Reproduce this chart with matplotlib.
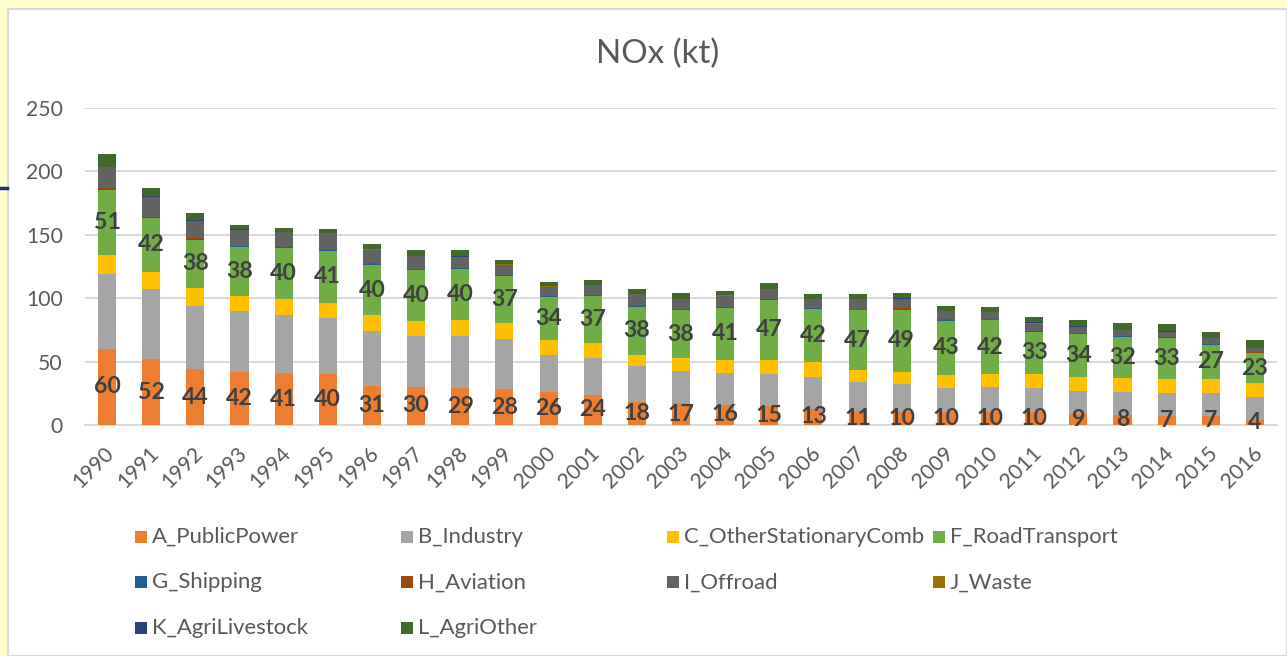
import matplotlib
matplotlib.use("Agg")
import matplotlib.pyplot as plt
import matplotlib.patches as mpatches
import matplotlib.lines as mlines
import matplotlib.transforms as mtrans
import numpy as np

years = [str(y) for y in range(1990, 2017)]
series_names = ["A_PublicPower", "B_Industry", "C_OtherStationaryComb", "F_RoadTransport",
                "G_Shipping", "H_Aviation", "I_Offroad", "J_Waste", "K_AgriLivestock", "L_AgriOther"]
A = [60, 52, 44, 42, 41, 40, 31, 30, 29, 28, 26, 24, 18, 17, 16, 15, 13, 11, 10, 10, 10, 10, 9, 8, 7, 7, 4]
B = [59, 55, 50, 48, 46, 44, 43, 40, 41, 39.5, 29.5, 28.5, 28.5, 25.3, 25.3, 25.5, 25, 23.2, 22.3, 19.2,
     20.2, 19.2, 18, 18, 18, 18, 18.3]
C = [15.3, 14, 14, 12, 12.2, 12.4, 12.4, 12.4, 13.2, 13.2, 11.4, 12.4, 8.9, 10.3, 10.2, 11, 11.4, 9.2, 9.7,
     10.2, 10.3, 11.3, 11, 11.3, 11, 11.3, 11.1]
F = [51, 42, 38, 38, 40, 41, 40, 40, 40, 37, 34, 37, 38, 38, 41, 47, 42, 47, 49, 43, 42, 33, 34, 32, 33, 27, 23]
G = [0.6, 0.8, 0.8, 0.8, 0.8, 0.5, 0.8, 0.8, 0.8, 0.6, 0.5, 0.5, 0.8, 0.8, 0.5, 0.5, 0.8, 0.3, 0.7, 0.7,
     0.7, 0.7, 0.7, 0.7, 0.6, 0.7, 0.7]
H = [0.8, 0.4, 0.3, 0.3, 0.3, 0.9, 0.3, 0.2, 0.2, 0.2, 0.2, 0.2, 0.2, 0.2, 0.2, 0.2, 0.2, 0.9, 0.2, 0.2,
     0.2, 0.2, 0.1, 0.1, 0.1, 0.1, 0.1]
I = [16.6, 15.8, 13.9, 12.7, 11.6, 12.5, 10.4, 9.5, 8.4, 7.7, 7.5, 7.6, 8.6, 7.4, 8.8, 7.8, 6.6, 7.4, 7.2, 6.7,
     5.5, 5.6, 4.7, 4.9, 3.9, 4.5, 3.3]
J = [0.2, 0.2, 0.2, 0.2, 0.2, 0.2, 0.8, 0.2, 0.2, 0.8, 0.2, 0.2, 0.2, 0.2, 0.2, 0.2, 0.2, 0.2, 0.1, 0.1,
     0.1, 0.1, 0.1, 0.1, 0.1, 0.1, 0.1]
K = [0.2, 0.2, 0.2, 0.2, 0.2, 0.2, 0.2, 0.2, 0.2, 0.1, 0.1, 0.1, 0.1, 0.1, 0.1, 0.1, 0.1, 0.1, 0.8, 0.1,
     0.1, 0.8, 0.1, 0.1, 0.1, 0.1, 0.1]
L = [10.3, 6.6, 5.6, 3.3, 3.3, 3.0, 3.7, 4.9, 5.2, 2.9, 3.7, 3.7, 3.7, 4.7, 3.7, 4.7, 3.7, 3.7, 3.8, 3.5,
     3.6, 4.1, 5.0, 5.4, 5.7, 4.7, 6.0]
y_ticks = [0, 50, 100, 150, 200, 250]
labelled = {"A_PublicPower", "F_RoadTransport"}

colors = ["#ED7D31", "#A5A5A5", "#FFC000", "#70AD47", "#255E91",
          "#9E480E", "#636363", "#997300", "#264478", "#43682B"]
data = [A, B, C, F, G, H, I, J, K, L]

FONT = ["Lato", "DejaVu Sans"]
W, Hpx = 1287, 656
fig = plt.figure(figsize=(W / 100, Hpx / 100), dpi=100)
fig.patch.set_facecolor("#FFFFCC")
renderer = fig.canvas.get_renderer()


def fit(text, target_px, weight="normal"):
    t = fig.text(0, 0, text, fontsize=10, family=FONT, weight=weight)
    w = t.get_window_extent(renderer).width
    t.remove()
    return 10 * target_px / w


# white chart area with light border
fig.add_artist(mpatches.Rectangle((8 / W, 0), 1 - 8 / W, 1 - 9 / Hpx, transform=fig.transFigure,
                                  facecolor="white", edgecolor="#D9D9D9", linewidth=1.5, zorder=0))
fig.add_artist(mlines.Line2D([0, 7 / W], [1 - 188 / Hpx] * 2, transform=fig.transFigure,
                             color="#1F2A8A", linewidth=2.5, zorder=1))

ax = fig.add_axes([85 / W, 1 - 425 / Hpx, (1277 - 85) / W, (425 - 108) / Hpx])
ax.set_facecolor("none")

x = np.arange(len(years))
bottom = np.zeros(len(years))
lab_size = fit("60", 27, "bold")
for name, vals, col in zip(series_names, data, colors):
    vals = np.array(vals, dtype=float)
    cont = ax.bar(x, vals, 0.41, bottom=bottom, color=col, linewidth=0, zorder=3)
    if name in labelled:
        ax.bar_label(cont, labels=[f"{v:.0f}" for v in vals], label_type="center",
                     fontsize=lab_size, fontweight="bold", color="#404040", family=FONT, zorder=5)
    bottom += vals

ax.set_xlim(-0.5, len(years) - 0.5)
ax.set_ylim(0, 250)
ax.set_yticks(y_ticks)
ax.set_xticks(x)
tick_size = fit("250", 37)
ax.set_xticklabels(years)
ax.tick_params(axis="y", length=0, pad=16, labelsize=tick_size, labelcolor="#595959")
ax.tick_params(axis="x", length=0, pad=13, labelsize=tick_size, labelcolor="#595959")
for lab in ax.get_yticklabels() + ax.get_xticklabels():
    lab.set_family(FONT)
offset = mtrans.ScaledTranslation(-3 / 100, 0, fig.dpi_scale_trans)
for lab in ax.get_xticklabels():
    lab.set_rotation(45)
    lab.set_ha("right")
    lab.set_rotation_mode("anchor")
    lab.set_transform(lab.get_transform() + offset)

ax.yaxis.grid(True, color="#D9D9D9", linewidth=1.4, zorder=0)
ax.set_axisbelow(True)
for s in ["left", "right", "top"]:
    ax.spines[s].set_visible(False)
ax.spines["bottom"].set_color("#D9D9D9")
ax.spines["bottom"].set_linewidth(1.4)

# title
fig.text(658 / W, 1 - 63.5 / Hpx, "NOx (kt)", fontsize=fit("NOx (kt)", 123), family=FONT,
         color="#595959", ha="center", va="baseline")

# legend (manual grid like Excel)
leg_size = fit("A_PublicPower", 147)
col_x = [135, 400.7, 666.7, 932.5]
row_y = [536.7, 582.3, 627.5]
for i, (name, col) in enumerate(zip(series_names, colors)):
    cx = col_x[i % 4]
    cy = row_y[i // 4]
    fig.add_artist(mpatches.Rectangle((cx / W, 1 - (cy + 6) / Hpx), 12 / W, 12 / Hpx,
                                      transform=fig.transFigure, facecolor=col, edgecolor="none"))
    fig.text((cx + 17) / W, 1 - cy / Hpx, name, fontsize=leg_size, family=FONT, color="#595959",
             ha="left", va="center")

fig.savefig("out.png", dpi=100, facecolor=fig.get_facecolor())
